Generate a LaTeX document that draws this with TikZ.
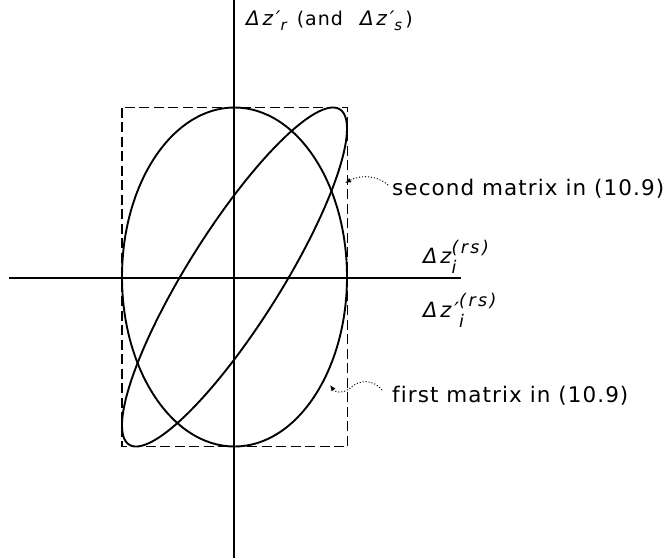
\documentclass[tikz,border=0pt]{standalone}
\usepackage{fontspec}
\setmainfont{DejaVu Sans}
\newfontfamily\wide[LetterSpace=5,Ligatures=NoCommon]{DejaVu Sans}
\newfontfamily\wider[LetterSpace=14]{DejaVu Sans}
\usetikzlibrary{arrows.meta}
% stacked superscript / subscript, #1 = size, #2 = sup, #3 = sub, #4 raise, #5 lower
\newcommand\supsubx[5]{%
  \setbox0=\hbox{\wider\itshape\fontsize{#1}{#1}\selectfont #2}%
  \setbox2=\hbox{\wider\itshape\fontsize{#1}{#1}\selectfont #3}%
  \dimen0=\wd0 \ifdim\wd2>\dimen0 \dimen0=\wd2 \fi
  \rlap{\raise #4\box0}\rlap{\lower #5\box2}\hskip\dimen0\relax}
\begin{document}
\begin{tikzpicture}[x=1pt,y=-1pt,
  axis/.style={line width=2pt},
  curve/.style={line width=1.9pt},
  boxline/.style={line width=1.8pt, dash pattern=on 10pt off 4.5pt},
  lead/.style={line width=1pt, dash pattern=on 1pt off 2pt, -{Latex[length=6pt,width=5pt]}},
  lbl/.style={inner sep=0pt, anchor=base west, font=\wide\fontsize{21.5}{24}\selectfont},
  mlbl/.style={inner sep=0pt, anchor=base west, font=\wider\fontsize{20}{22}\selectfont}
  ]
\useasboundingbox (0,0) rectangle (666,558);
% axes
\coordinate (vt) at (234,0);
\coordinate (vb) at (234,558);
\coordinate (hl) at (9,277.5);
\coordinate (hr) at (461,277.5);
\draw[axis] (vt) -- (vb);
\draw[axis] (hl) -- (hr);
% dashed bounding rectangle
\coordinate (bl) at (122,107.5);
\coordinate (tr) at (347.5,446.5);
\draw[boxline] (bl) rectangle (tr);
% upright ellipse (first matrix)
\coordinate (c) at (234.5,277);
\draw[curve] (c) ellipse [x radius=112.5, y radius=169.5];
% tilted ellipse (second matrix)
\draw[curve] plot[domain=0:360, samples=181, variable=\t]
  ({234.5+112.5*cos(\t)}, {277-169.5*cos(\t-29)}) -- cycle;
% labels
\node[mlbl] (ytop) at (246,25) {{\itshape Δz′}\supsubx{15}{}{r}{7pt}{5pt}{\wide\fontsize{19}{21}\selectfont\ \,(and\ \ \,}{\itshape Δz′}\supsubx{15}{}{s}{7pt}{5pt}{\wide\fontsize{19}{21}\selectfont\,)}};
\node[mlbl,font=\wider\fontsize{21}{23}\selectfont] (xup) at (423,263) {{\itshape Δz}\supsubx{17.5}{(rs)}{i}{10pt}{10pt}};
\node[mlbl,font=\wider\fontsize{21}{23}\selectfont] (xlo) at (423,317) {{\itshape Δz′}\supsubx{17.5}{(rs)}{i}{11pt}{10pt}};
\node[lbl] (sec) at (392,195) {second matrix in (10.9)};
\node[lbl] (fir) at (392,402) {first matrix in (10.9)};
% leaders
\coordinate (s0) at ([xshift=-4pt,yshift=10pt]sec.base west);
\coordinate (s1) at (345,183);
\draw[lead] (s0) .. controls (378,176) and (362,174) .. (s1);
\coordinate (f0) at ([xshift=-10pt,yshift=12pt]fir.base west);
\coordinate (f1) at (330,385);
\draw[lead] (f0) .. controls (374,380) and (360,378) .. (349,389)
  .. controls (342,394) and (335,392) .. (f1);
\end{tikzpicture}
\end{document}
